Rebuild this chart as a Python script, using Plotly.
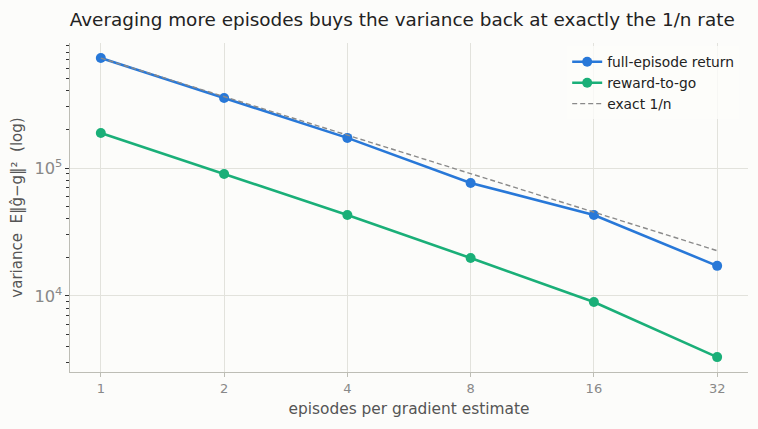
import plotly.graph_objects as go

# episodes per gradient estimate
n_episodes = [1, 2, 4, 8, 16, 32]

# variance
full_return = [7.23e5, 3.52e5, 1.72e5, 7.64e4, 4.30e4, 1.72e4]
reward_to_go = [1.88e5, 8.98e4, 4.30e4, 1.98e4, 8.98e3, 3.33e3]
exact_1n = [7.23e5, 3.61e5, 1.81e5, 9.04e4, 4.52e4, 2.26e4]

x_ticks = [1, 2, 4, 8, 16, 32]
x_labels = ["1", "2", "4", "8", "16", "32"]

blue = "#2878d8"
green = "#1aaf78"
grid = "#e2e2dc"
axis_col = "#bdbdb5"

fig = go.Figure()

fig.add_trace(go.Scatter(
    x=n_episodes, y=full_return, name="full-episode return",
    mode="lines+markers",
    line=dict(color=blue, width=2.6),
    marker=dict(color=blue, size=10),
))
fig.add_trace(go.Scatter(
    x=n_episodes, y=reward_to_go, name="reward-to-go",
    mode="lines+markers",
    line=dict(color=green, width=2.6),
    marker=dict(color=green, size=10),
))
fig.add_trace(go.Scatter(
    x=n_episodes, y=exact_1n, name="exact 1/n",
    mode="lines",
    line=dict(color="#8a8a8a", width=1.4, dash="5px,3px"),
))

fig.update_layout(
    width=758, height=429,
    paper_bgcolor="#fcfcfa", plot_bgcolor="#fcfcfa",
    font=dict(family="DejaVu Sans", color="#555555", size=13),
    title=dict(text="Averaging more episodes buys the variance back at exactly the 1/n rate",
               xref="paper", x=0.49, xanchor="center", y=0.955, yanchor="middle",
               font=dict(size=18.4, color="#222222")),
    margin=dict(l=70, r=10, t=43, b=57),
    showlegend=True,
    legend=dict(x=0.987, y=0.99, xanchor="right", yanchor="top",
                bgcolor="rgba(252,252,250,0.8)", borderwidth=0,
                font=dict(size=13.8, color="#222222"),
                tracegroupgap=0),
)

fig.update_xaxes(
    type="log", range=[-0.0753, 1.5805],
    tickvals=x_ticks, ticktext=x_labels,
    showgrid=True, gridcolor=grid, gridwidth=1,
    showline=True, linecolor=axis_col, linewidth=1.2,
    ticks="outside", ticklen=4, tickcolor=axis_col,
    tickfont=dict(color="#888888", size=13),
    title=dict(text="episodes per gradient estimate", font=dict(size=15.4, color="#555555"), standoff=8),
    zeroline=False,
)

fig.update_yaxes(
    type="log", range=[3.406, 5.977],
    dtick=1, exponentformat="power",
    showgrid=True, gridcolor=grid, gridwidth=1,
    showline=True, linecolor=axis_col, linewidth=1.2,
    ticks="outside", ticklen=4, tickcolor="#333333",
    minor=dict(ticks="outside", ticklen=2.5, tickcolor="#333333", showgrid=False),
    tickfont=dict(color="#888888", size=13),
    title=dict(text="variance  E‖ĝ−g‖²  (log)", font=dict(size=15, color="#555555"), standoff=8),
    zeroline=False,
)

fig.write_html("out.html", config={"displayModeBar": False},
               post_script="document.body.style.margin='0';")
